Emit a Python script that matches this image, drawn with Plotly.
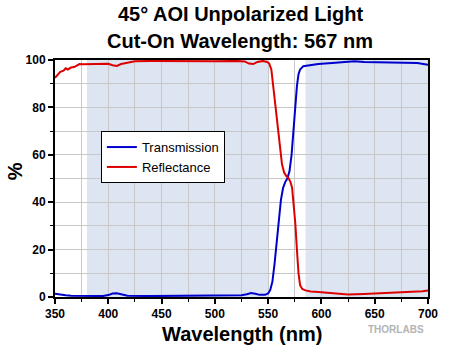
import plotly.graph_objects as go

# Measured curves (wavelength in nm, value in %)
wl_t = [350, 352, 355, 360, 365, 380, 395, 400, 404, 408, 412, 418, 440, 480, 505,
        515, 525, 530, 534, 538, 542, 547, 550, 552, 554, 556, 558, 560, 562, 564,
        566, 568, 570, 572, 574, 575.5, 577, 578.5, 580, 583, 590, 597, 610, 625,
        631, 640, 658, 670, 683, 690, 700]
transmission = [1.4, 1.2, 0.9, 0.7, 0.5, 0.4, 0.4, 0.8, 1.5, 1.6, 1.1, 0.5, 0.4, 0.4, 0.7,
                0.5, 0.7, 1.2, 1.7, 1.4, 0.9, 0.9, 1.5, 3, 6.5, 14, 24, 33, 41, 46,
                48.5, 50, 53, 60, 72, 82, 89, 94, 96, 97.4, 97.9, 98.3, 98.7, 99.2,
                99.5, 99.2, 99.1, 99.0, 99.0, 98.7, 98.0]

wl_r = [350, 352, 355, 358, 360, 362, 365, 368, 370, 373, 376, 380, 390, 400, 404,
        408, 412, 418, 425, 440, 460, 480, 500, 520, 528, 532, 536, 540, 545, 549,
        551, 553, 555, 557, 559, 561, 563, 565, 567, 569, 571, 572.5, 574, 575.5,
        577, 578.5, 580, 582, 585, 590, 597, 605, 615, 625, 640, 658, 670, 689,
        695, 700]
reflectance = [92.5, 93.5, 95, 95.5, 96.5, 96, 96.8, 97, 97.5, 98.3, 98.2, 98.2, 98.3,
               98.4, 97.8, 97.5, 98.3, 99, 99.5, 99.6, 99.5, 99.6, 99.5, 99.6, 99.4,
               98.5, 98.3, 99.2, 99.6, 99.2, 98.5, 96, 88, 79, 72, 64, 56, 52.5, 51,
               50.3, 48.5, 46, 39, 31, 20, 10, 5, 3.4, 2.8, 2.3, 2.1, 1.8, 1.5, 1.1,
               1.3, 1.7, 1.9, 2.1, 2.4, 2.8]

# Reflection and transmission bands (nm)
bands = [(380, 551), (585, 700)]

title_lines = ["45° AOI Unpolarized Light", "Cut-On Wavelength: 567 nm"]

FONT = "Liberation Sans, Arial"

fig = go.Figure()

for x0, x1 in bands:
    fig.add_shape(type="rect", xref="x", yref="y", x0=x0, x1=x1, y0=0, y1=100,
                  fillcolor="#dde5f3", line_width=0, layer="below")

fig.add_trace(go.Scatter(x=wl_t, y=transmission, mode="lines", name="Transmission",
                         line=dict(color="#0000cc", width=2)))
fig.add_trace(go.Scatter(x=wl_r, y=reflectance, mode="lines", name="Reflectance",
                         line=dict(color="#dd0000", width=2)))

fig.update_layout(
    width=450, height=346,
    margin=dict(l=55, r=15, t=60, b=49),
    paper_bgcolor="white", plot_bgcolor="white",
    showlegend=True,
    legend=dict(
        x=0.123, y=0.70, xanchor="left", yanchor="top",
        bgcolor="white", bordercolor="black", borderwidth=1,
        font=dict(family=FONT, size=13, color="black"),
        itemwidth=30, tracegroupgap=0,
    ),
    xaxis=dict(
        range=[350, 700], tickmode="linear", tick0=350, dtick=50,
        showgrid=True, gridcolor="#c8c8c8", gridwidth=1,
        ticks="outside", ticklen=5, tickwidth=2, tickcolor="black",
        showline=True, linecolor="black", linewidth=2, mirror=True,
        tickfont=dict(family=FONT, size=12, color="black"),
        tickprefix="<b>", ticksuffix="</b>",
        minor=dict(dtick=25, showgrid=True, gridcolor="#c8c8c8", gridwidth=1,
                   ticks="outside", ticklen=3, tickwidth=1, tickcolor="black"),
        zeroline=False,
    ),
    yaxis=dict(
        range=[0, 100], tickmode="linear", tick0=0, dtick=20,
        showgrid=True, gridcolor="#c8c8c8", gridwidth=1,
        ticks="outside", ticklen=5, tickwidth=2, tickcolor="black",
        showline=True, linecolor="black", linewidth=2, mirror=True,
        tickfont=dict(family=FONT, size=12, color="black"),
        tickprefix="<b>", ticksuffix="</b>",
        minor=dict(dtick=10, showgrid=True, gridcolor="#c8c8c8", gridwidth=1,
                   ticks="outside", ticklen=3, tickwidth=1, tickcolor="black"),
        zeroline=False,
    ),
)

# Two-line chart title
for text, ypos in zip(title_lines, [1.194, 1.080]):
    fig.add_annotation(text=f"<b>{text}</b>", xref="paper", yref="paper",
                       x=0.497, y=ypos, xanchor="center", yanchor="middle",
                       showarrow=False,
                       font=dict(family=FONT, size=20, color="black"))

# Axis titles
fig.add_annotation(text="<b>Wavelength (nm)</b>", xref="paper", yref="paper",
                   x=0.5, y=-0.155, xanchor="center", yanchor="middle",
                   showarrow=False, font=dict(family=FONT, size=20, color="black"))
fig.add_annotation(text="<b>%</b>", xref="paper", yref="paper",
                   x=-0.108, y=0.529, xanchor="center", yanchor="middle",
                   textangle=-90, showarrow=False,
                   font=dict(family=FONT, size=20, color="black"))

fig.add_annotation(
    text="<b>THORLABS</b>", xref="paper", yref="paper", x=0.995, y=-0.139,
    xanchor="right", yanchor="middle", showarrow=False,
    font=dict(family=FONT, size=10, color="#b4b4b4"),
)

fig.write_html("out.html")
